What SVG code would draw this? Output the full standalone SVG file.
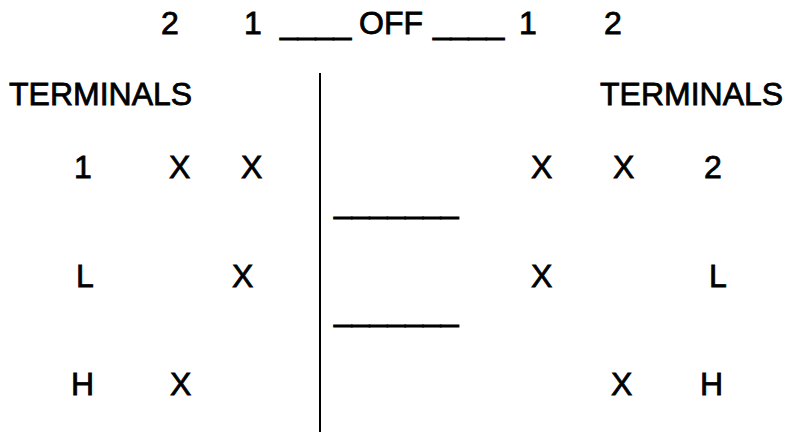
<svg xmlns="http://www.w3.org/2000/svg" width="787" height="434" viewBox="0 0 787 434">
<style>
text{font-family:"Liberation Sans",Arial,sans-serif;font-size:32px;fill:#000;stroke:#000;stroke-width:0.8}
.line{stroke:#000;stroke-width:2;fill:none}
</style>
<rect width="787" height="434" fill="#fff"/>
<g id="header">
<text x="161" y="34">2</text>
<text x="244" y="34">1</text>
<text x="280" y="34">____</text>
<text x="359" y="34">OFF</text>
<text x="433" y="34">____</text>
<text x="519" y="34">1</text>
<text x="604" y="34">2</text>
</g>
<g id="left-terminals">
<text x="9" y="105">TERMINALS</text>
<text x="74" y="178">1</text>
<text x="169" y="178">X</text>
<text x="241" y="178">X</text>
<text x="76" y="287">L</text>
<text x="232" y="287">X</text>
<text x="71" y="395">H</text>
<text x="170" y="395">X</text>
</g>
<g id="right-terminals">
<text x="600" y="105">TERMINALS</text>
<text x="531" y="178">X</text>
<text x="613" y="178">X</text>
<text x="704" y="178">2</text>
<text x="531" y="287">X</text>
<text x="709" y="287">L</text>
<text x="611" y="395">X</text>
<text x="700" y="395">H</text>
</g>
<g id="connectors">
<line class="line" x1="320" y1="73" x2="320" y2="432"/>
<text x="334" y="213">_______</text>
<text x="334" y="321">_______</text>
</g>
</svg>
